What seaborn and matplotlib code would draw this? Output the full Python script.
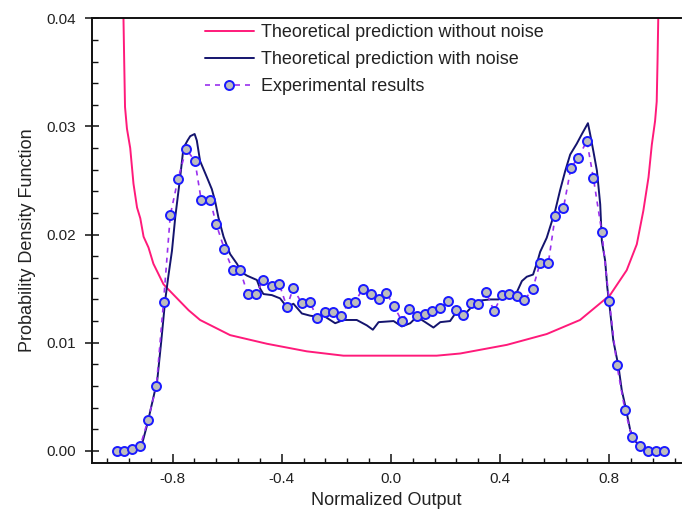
import numpy as np
import pandas as pd
import matplotlib
matplotlib.use("Agg")
import matplotlib.pyplot as plt
from matplotlib.lines import Line2D
from matplotlib.ticker import MultipleLocator, FixedLocator
import seaborn as sns

# ---------------- data ----------------
pink_x = [-0.980, -0.977, -0.974, -0.967, -0.955, -0.943, -0.930, -0.918, -0.906,
          -0.888, -0.870, -0.833, -0.818, -0.741, -0.699, -0.589, -0.454, -0.308,
          -0.174, 0.0, 0.168, 0.254, 0.425, 0.571, 0.693, 0.803, 0.864, 0.901,
          0.925, 0.944, 0.956, 0.968, 0.974, 0.977, 0.980]
pink_y = [0.0405, 0.0360, 0.0318, 0.0298, 0.0280, 0.0247, 0.0225, 0.0215, 0.0198,
          0.0188, 0.0173, 0.0154, 0.0150, 0.0130, 0.0121, 0.0107, 0.0099, 0.0092,
          0.0088, 0.0088, 0.0088, 0.0090, 0.0098, 0.0108, 0.0121, 0.0144, 0.0167,
          0.0191, 0.0222, 0.0253, 0.0283, 0.0305, 0.0323, 0.0360, 0.0405]

noise_x = [-1.003, -0.955, -0.929, -0.911, -0.893, -0.874, -0.856, -0.841, -0.827,
           -0.815, -0.802, -0.790, -0.772, -0.760, -0.745, -0.735, -0.719, -0.711,
           -0.699, -0.674, -0.656, -0.644, -0.632, -0.613, -0.589, -0.564, -0.546,
           -0.527, -0.491, -0.479, -0.467, -0.436, -0.406, -0.381, -0.357, -0.326,
           -0.296, -0.271, -0.247, -0.204, -0.174, -0.125, -0.088, -0.066, -0.045,
           0.010, 0.040, 0.071, 0.095, 0.126, 0.156, 0.181, 0.217, 0.236, 0.266,
           0.303, 0.327, 0.364, 0.394, 0.431, 0.462, 0.480, 0.498, 0.521, 0.538,
           0.547, 0.571, 0.602, 0.620, 0.639, 0.657, 0.681, 0.700, 0.722, 0.730,
           0.742, 0.755, 0.767, 0.773, 0.785, 0.793, 0.803, 0.815, 0.834, 0.846,
           0.862, 0.877, 0.894, 0.919, 0.950, 0.999]
noise_y = [0.0000, 0.00005, 0.0003, 0.0007, 0.0024, 0.0045, 0.0065, 0.0102, 0.0139,
           0.0162, 0.0185, 0.0216, 0.0253, 0.0280, 0.0287, 0.0291, 0.0293, 0.0287,
           0.0268, 0.0253, 0.0242, 0.0231, 0.0216, 0.0198, 0.0182, 0.0173, 0.0165,
           0.0162, 0.0158, 0.0150, 0.0145, 0.0144, 0.0141, 0.0133, 0.0136, 0.0127,
           0.0125, 0.0124, 0.0125, 0.0118, 0.0121, 0.0121, 0.0116, 0.0112, 0.0119,
           0.0120, 0.0115, 0.0118, 0.0124, 0.0119, 0.0114, 0.0119, 0.0120, 0.0127,
           0.0125, 0.0135, 0.0139, 0.0140, 0.0140, 0.0144, 0.0147, 0.0157, 0.0161,
           0.0163, 0.0176, 0.0184, 0.0197, 0.0222, 0.0241, 0.0259, 0.0274, 0.0284,
           0.0293, 0.0303, 0.0293, 0.0277, 0.0259, 0.0228, 0.0194, 0.0176, 0.0151,
           0.0130, 0.0102, 0.0078, 0.0056, 0.0038, 0.0019, 0.0009, 0.0004, 0.0001,
           0.0000]

exp_x = [-1.004, -0.977, -0.947, -0.918, -0.890, -0.859, -0.833, -0.808, -0.780,
         -0.750, -0.718, -0.695, -0.662, -0.640, -0.610, -0.579, -0.552, -0.525,
         -0.495, -0.468, -0.437, -0.409, -0.381, -0.358, -0.326, -0.296, -0.271,
         -0.242, -0.211, -0.182, -0.156, -0.131, -0.103, -0.072, -0.045, -0.017,
         0.012, 0.040, 0.068, 0.097, 0.126, 0.152, 0.181, 0.209, 0.239, 0.264,
         0.293, 0.321, 0.349, 0.378, 0.407, 0.434, 0.462, 0.489, 0.520, 0.547,
         0.577, 0.602, 0.632, 0.660, 0.687, 0.718, 0.742, 0.773, 0.800, 0.828,
         0.858, 0.883, 0.913, 0.941, 0.970, 0.999]
exp_y = [0.0000, 0.0000, 0.00018, 0.00046, 0.00283, 0.00602, 0.01376, 0.02182,
         0.02513, 0.02790, 0.02682, 0.02320, 0.02320, 0.02097, 0.01866, 0.01668,
         0.01668, 0.01452, 0.01447, 0.01576, 0.01521, 0.01544, 0.01330, 0.01502,
         0.01364, 0.01373, 0.01230, 0.01286, 0.01286, 0.01244, 0.01369, 0.01376,
         0.01500, 0.01453, 0.01407, 0.01461, 0.01336, 0.01201, 0.01315, 0.01244,
         0.01269, 0.01293, 0.01321, 0.01382, 0.01306, 0.01253, 0.01367, 0.01361,
         0.01468, 0.01293, 0.01438, 0.01453, 0.01429, 0.01392, 0.01500, 0.01739,
         0.01739, 0.02169, 0.02242, 0.02620, 0.02712, 0.02866, 0.02523, 0.02021,
         0.01387, 0.00793, 0.00373, 0.00132, 0.00040, 0.0000, 0.0000, 0.0000]

labels = ["Theoretical prediction without noise",
          "Theoretical prediction with noise",
          "Experimental results"]
x_ticks = [-0.8, -0.4, 0.0, 0.4, 0.8]
y_ticks = [0.00, 0.01, 0.02, 0.03, 0.04]

# ---------------- style ----------------
sns.set_style("ticks")
plt.rcParams['font.family'] = ['Liberation Sans', 'DejaVu Sans']

PINK = "#ff1a7a"
NAVY = "#14146e"
PURPLE = "#9a30ee"
BLUE = "#1a1aff"
GREY = "#bdbdbd"
TXT = "#222222"

fig = plt.figure(figsize=(6.82, 5.12), dpi=100)
ax = fig.add_axes([92/682, 1 - 462.5/512, (681 - 92)/682, (462.5 - 18.3)/512])

df_pink = pd.DataFrame({"x": pink_x, "y": pink_y})
df_noise = pd.DataFrame({"x": noise_x, "y": noise_y})
df_exp = pd.DataFrame({"x": exp_x, "y": exp_y})

sns.lineplot(data=df_pink, x="x", y="y", ax=ax, color=PINK, lw=1.4,
             sort=False, estimator=None, legend=False)
sns.lineplot(data=df_noise, x="x", y="y", ax=ax, color=NAVY, lw=1.4,
             sort=False, estimator=None, legend=False)
sns.lineplot(data=df_exp, x="x", y="y", ax=ax, color=PURPLE, lw=1.2,
             sort=False, estimator=None, legend=False, dashes=False,
             linestyle=(0, (3, 3)))
sns.scatterplot(data=df_exp, x="x", y="y", ax=ax, marker="o", s=42,
                facecolor=GREY, edgecolor=BLUE, linewidth=1.4, legend=False,
                zorder=5)

ax.set_xlim(-1.095, 1.063)
ax.set_ylim(-0.00108, 0.04)

ax.xaxis.set_major_locator(FixedLocator(x_ticks))
ax.xaxis.set_minor_locator(MultipleLocator(0.08))
ax.yaxis.set_major_locator(FixedLocator(y_ticks))
ax.yaxis.set_minor_locator(MultipleLocator(0.002))
ax.set_xticklabels([f"{v:.1f}" for v in x_ticks])
ax.set_yticklabels([f"{v:.2f}" for v in y_ticks])

ax.tick_params(axis="x", which="major", direction="in", length=6.5, width=1.1,
               pad=7, labelsize=11, colors="#111111", labelcolor=TXT)
ax.tick_params(axis="x", which="minor", direction="in", length=3.6, width=1.0,
               colors="#111111")
ax.tick_params(axis="y", which="major", direction="inout", length=9.5, width=1.1,
               pad=7, labelsize=11, colors="#111111", labelcolor=TXT)
ax.tick_params(axis="y", which="minor", direction="in", length=4.3, width=1.0,
               colors="#111111")
for sp in ["left", "bottom", "top"]:
    ax.spines[sp].set_linewidth(1.4)
    ax.spines[sp].set_color("#111111")
ax.spines["right"].set_visible(False)

ax.set_xlabel("Normalized Output", fontsize=13, color=TXT, labelpad=4)
ax.set_ylabel("Probability Density Function", fontsize=13, color=TXT, labelpad=7)

handles = [
    Line2D([], [], color=PINK, lw=1.4),
    Line2D([], [], color=NAVY, lw=1.4),
    Line2D([], [], color=PURPLE, lw=1.2, linestyle=(0, (3, 3)), marker="o",
           markersize=6.5, markerfacecolor=GREY, markeredgecolor=BLUE,
           markeredgewidth=1.4),
]
leg = ax.legend(handles, labels, loc="upper left",
                bbox_to_anchor=(205/682, 1 - 24/512), bbox_transform=fig.transFigure,
                frameon=False, fontsize=13, handlelength=2.7, handletextpad=0.4,
                labelspacing=0.55, borderaxespad=0, borderpad=0)
for t in leg.get_texts():
    t.set_color(TXT)

fig.savefig("out.png", dpi=100)
